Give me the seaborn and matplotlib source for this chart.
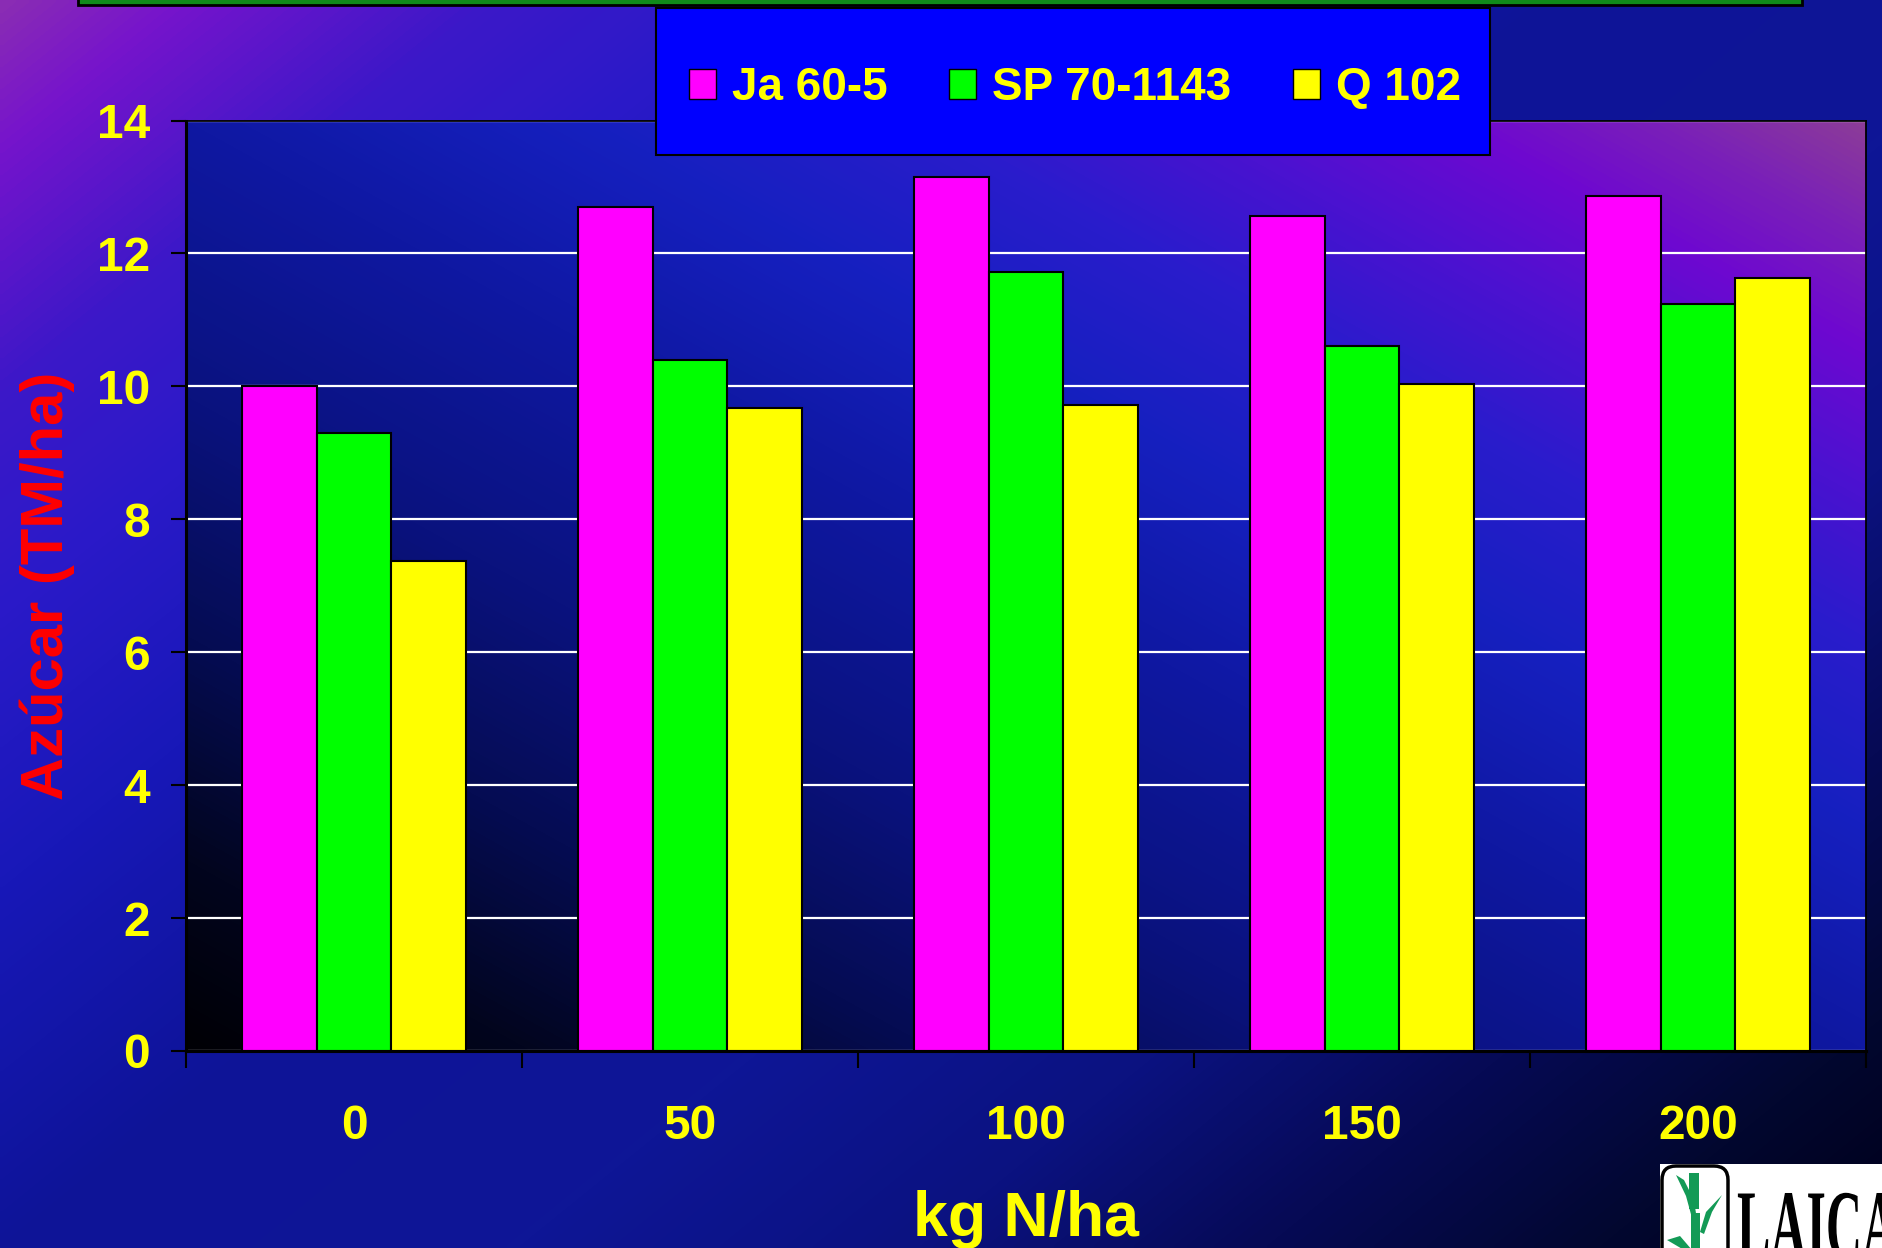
import numpy as np
import pandas as pd
import matplotlib
matplotlib.use("Agg")
import matplotlib.pyplot as plt
from matplotlib.colors import LinearSegmentedColormap
from matplotlib.patches import Rectangle, FancyBboxPatch, PathPatch, Patch, Polygon
from matplotlib.textpath import TextPath
from matplotlib.font_manager import FontProperties
from matplotlib.transforms import Affine2D
import seaborn as sns

# ---- data -------------------------------------------------------------
dosis = ["0", "50", "100", "150", "200"]
variedades = ["Ja 60-5", "SP 70-1143", "Q 102"]
ja_60_5 = [10.0, 12.7, 13.15, 12.57, 12.86]
sp_70_1143 = [9.3, 10.4, 11.72, 10.6, 11.24]
q_102 = [7.37, 9.68, 9.72, 10.04, 11.63]
colores = ["#ff00ff", "#00ff00", "#ffff00"]
yticks = [0, 2, 4, 6, 8, 10, 12, 14]

df = pd.DataFrame({
    "dosis": dosis * 3,
    "azucar": ja_60_5 + sp_70_1143 + q_102,
    "variedad": [variedades[0]] * 5 + [variedades[1]] * 5 + [variedades[2]] * 5,
})

plt.rcParams["font.family"] = ["Liberation Sans", "DejaVu Sans"]

W, H = 1883, 1248
fig = plt.figure(figsize=(W / 100, H / 100), dpi=100)

# ---- slide background gradient ----------------------------------------
bg = fig.add_axes([0, 0, 1, 1], zorder=-10)
bg.set_axis_off()
u = np.linspace(0, 1, 400)[None, :]
v = np.linspace(0, 1, 270)[:, None]
t = 0.55 * u + 0.45 * v
cmap_fondo = LinearSegmentedColormap.from_list("fondo", [
    (0.00, "#8a2cb4"), (0.05, "#7614cc"), (0.14, "#3c18c8"), (0.22, "#2a1ac8"),
    (0.32, "#1818b8"), (0.45, "#0e1498"), (0.60, "#0e1696"), (0.72, "#0b1280"),
    (0.82, "#060a55"), (0.92, "#02072f"), (1.00, "#00001a")])
bg.imshow(t, cmap=cmap_fondo, vmin=0, vmax=1, aspect="auto",
          extent=(0, 1, 0, 1), origin="upper", interpolation="bilinear")
bg.set_xlim(0, 1)
bg.set_ylim(0, 1)

# ---- main plot area ---------------------------------------------------
ax_l, ax_r, ax_t, ax_b = 186, 1866, 120.5, 1051
ax = fig.add_axes([ax_l / W, (H - ax_b) / H, (ax_r - ax_l) / W, (ax_b - ax_t) / H])
ax.patch.set_facecolor("none")

uu = np.linspace(0, 1, 400)[None, :]
vv = np.linspace(0, 1, 250)[:, None]
s = (uu + vv) / 2
cmap_area = LinearSegmentedColormap.from_list("area", [
    (0.00, "#000005"), (0.10, "#02051e"), (0.22, "#050c52"), (0.35, "#0a127e"),
    (0.50, "#0f18a2"), (0.62, "#1620c0"), (0.72, "#2a1ccc"), (0.80, "#4a12d0"),
    (0.88, "#6e08d0"), (0.94, "#7a20b8"), (1.00, "#8c3c98")])
ax.imshow(s, cmap=cmap_area, vmin=0, vmax=1, aspect="auto", extent=(0, 1, 0, 1),
          origin="lower", transform=ax.transAxes, interpolation="bilinear", zorder=-5)

sns.barplot(data=df, x="dosis", y="azucar", hue="variedad", order=dosis,
            hue_order=variedades, palette=colores, saturation=1, width=0.665,
            edgecolor="black", linewidth=1.5, errorbar=None, legend=False, ax=ax)

ax.set_xlim(-0.5, 4.5)
ax.set_ylim(0, 14)
ax.set_aspect("auto")

ax.set_yticks(yticks)
ax.set_yticklabels([str(y) for y in yticks], fontweight="bold")
ax.tick_params(axis="y", length=10.8, width=1.5, color="black", pad=15,
               labelsize=34.5, labelcolor="#ffff00", direction="out")
ax.set_xticks(range(len(dosis)))
ax.set_xticklabels(dosis, fontweight="bold")
ax.tick_params(axis="x", which="major", length=0, pad=38, labelsize=34.5,
               labelcolor="#ffff00")
ax.set_xticks(np.arange(-0.5, len(dosis), 1.0), minor=True)
ax.tick_params(axis="x", which="minor", length=12, width=1.5, color="black",
               direction="out")

ax.yaxis.grid(True, color="white", linewidth=1.6)
ax.xaxis.grid(False)
ax.set_axisbelow(True)

for side, lw in (("left", 2.2), ("bottom", 2.2), ("top", 1.3), ("right", 1.3)):
    ax.spines[side].set_color("black")
    ax.spines[side].set_linewidth(lw)

ax.set_ylabel("Azúcar (TM/ha)", color="#ff0000", fontsize=43, fontweight="bold")
ax.yaxis.set_label_coords(-0.066, 0.5)
ax.set_xlabel("kg N/ha", color="#ffff00", fontsize=45, fontweight="bold")
ax.xaxis.set_label_coords(0.5, -0.149)

# ---- overlay: title rule, legend box and logo -------------------------
ov = fig.add_axes([0, 0, 1, 1], zorder=10)
ov.set_xlim(0, W)
ov.set_ylim(0, H)
ov.set_axis_off()
ov.patch.set_alpha(0)

ov.add_patch(Rectangle((78, H - 4.5), 1802 - 78, 8, facecolor="#108a1a",
                       edgecolor="black", linewidth=2))

ov.add_patch(Rectangle((656, H - 155), 834, 147, facecolor="#0000ff",
                       edgecolor="black", linewidth=1.5))
handles = [Patch(facecolor=c, edgecolor="black", linewidth=1) for c in colores]
ov.legend(handles=handles, labels=variedades, loc="center",
          bbox_to_anchor=(1075, H - 88), bbox_transform=ov.transData,
          ncol=3, frameon=False, prop={"size": 33, "weight": "bold"},
          labelcolor="#ffff00", handlelength=0.59, handleheight=0.63,
          handletextpad=0.35, columnspacing=1.35, borderpad=0)

# LAICA logo
ov.add_patch(Rectangle((1660, 0), W - 1660, H - 1164, facecolor="white",
                       edgecolor="none"))
ov.add_patch(FancyBboxPatch((1662, -30), 66, (H - 1166) + 30,
                            boxstyle="round,pad=0,rounding_size=14",
                            facecolor="none", edgecolor="black", linewidth=2.5))
verde = "#139a56"
def yf(y):
    return H - y
ov.add_patch(Rectangle((1689, yf(1209)), 10, 36, facecolor=verde, edgecolor="none"))
ov.add_patch(Rectangle((1691, yf(1250)), 9, 37, facecolor=verde, edgecolor="none"))
for pts in (
    [(1676, 1175), (1684, 1180), (1694, 1200), (1697, 1220), (1692, 1218), (1686, 1196)],
    [(1700, 1232), (1706, 1212), (1722, 1195), (1712, 1212), (1704, 1234)],
    [(1667, 1240), (1680, 1236), (1692, 1250), (1684, 1250)],
):
    ov.add_patch(Polygon([(x, yf(y)) for x, y in pts], closed=True,
                         facecolor=verde, edgecolor="none"))
tp = TextPath((0, 0), "LAICA", size=100,
              prop=FontProperties(family="Liberation Serif", weight="bold"))
ov.add_patch(PathPatch(tp, facecolor="black", edgecolor="none",
                       transform=Affine2D().scale(0.5, 1.0).translate(1737, yf(1259)) + ov.transData))

fig.savefig("out.png", dpi=100)
